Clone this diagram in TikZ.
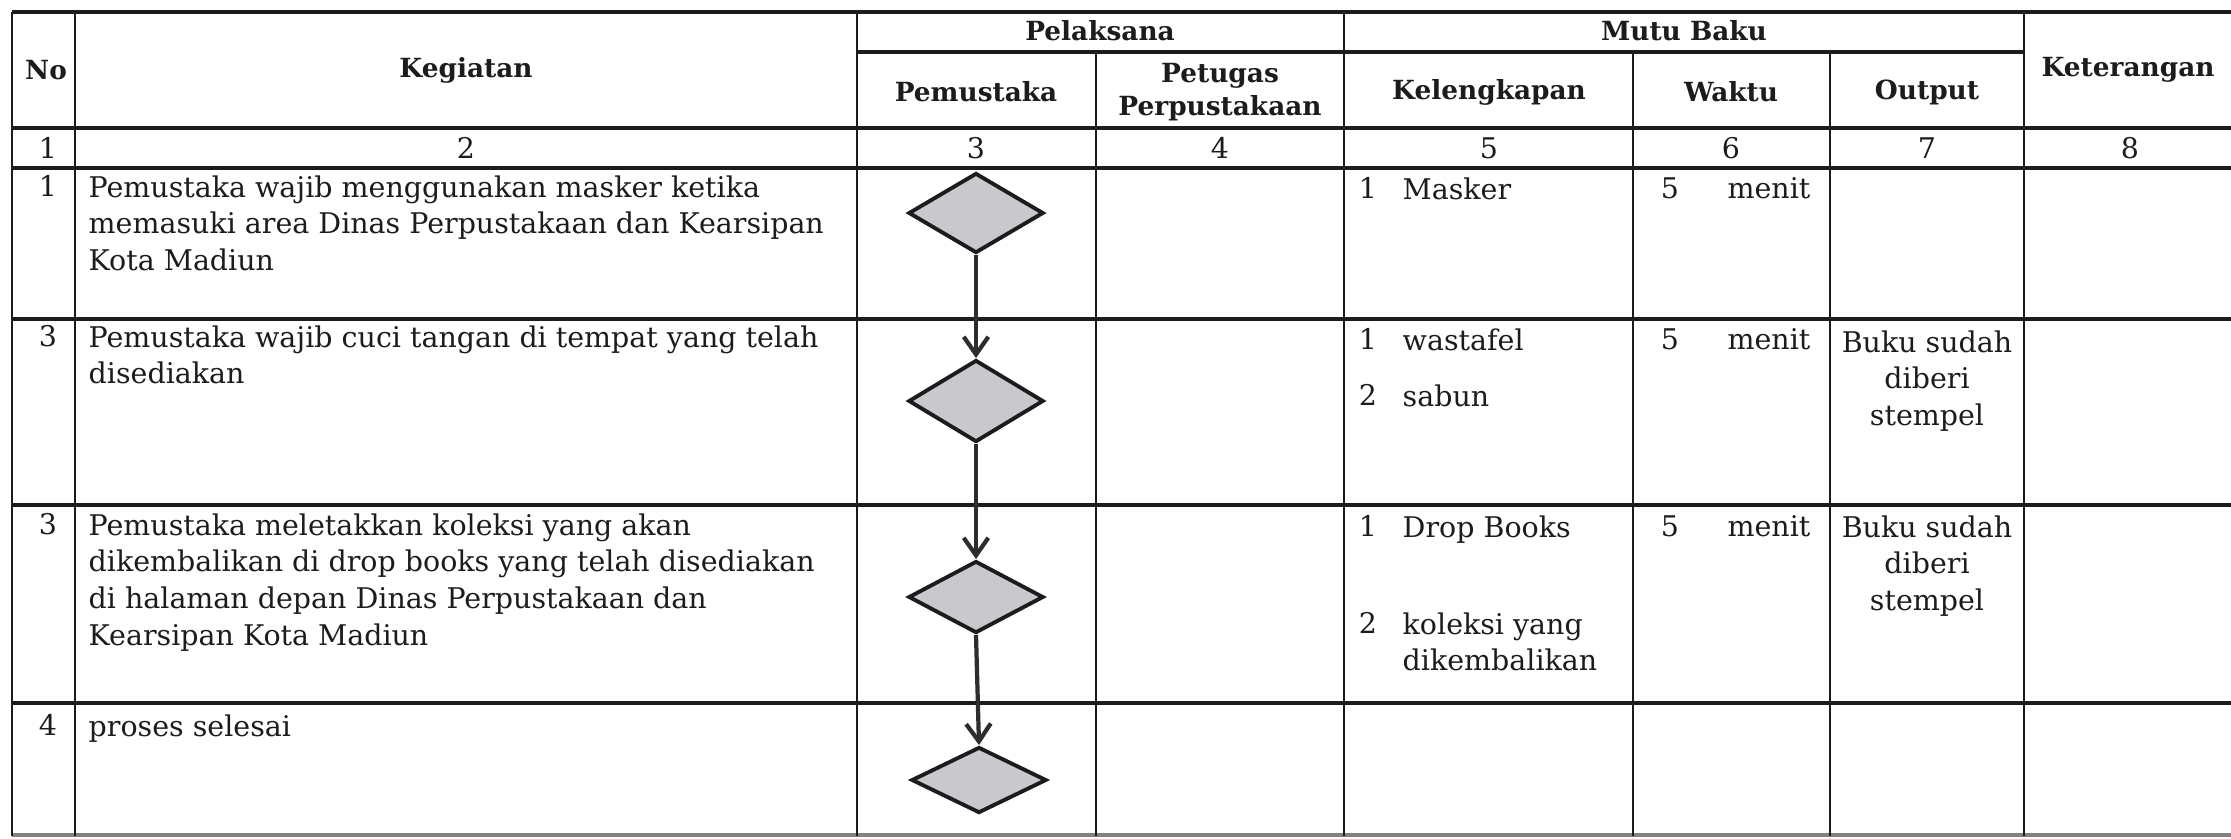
\documentclass[tikz,border=0pt]{standalone}
\usepackage{fontspec}
\setmainfont{DejaVu Serif}
\usetikzlibrary{shapes.geometric, arrows.meta}

\definecolor{ink}{RGB}{28,28,28}
\definecolor{diafill}{RGB}{200,200,205}
\definecolor{flowline}{RGB}{45,45,45}

\begin{document}
\begin{tikzpicture}[x=0.01cm, y=-0.01cm,
    hline/.style={line width=0.9pt, draw=ink},
    vline/.style={line width=0.7pt, draw=ink},
    head/.style={font=\fontsize{7.5}{9.4}\selectfont\bfseries, text=ink, align=center, inner sep=0pt},
    cell/.style={font=\fontsize{8.1}{10.4}\selectfont, text=ink, inner sep=0pt, anchor=north west, align=left},
    num/.style={font=\fontsize{8.1}{10.4}\selectfont, text=ink, inner sep=0pt},
    stepdia/.style={diamond, draw=ink, line width=1.1pt, fill=diafill, minimum width=1.35cm, inner sep=0pt},
    flow/.style={-{Straight Barb[length=5pt, width=7pt]}, draw=flowline, line width=1.2pt}]
    \useasboundingbox (0,0) rectangle (2231,838);

    % Grid
    \draw[hline] (12,12) -- (2231,12);
    \draw[hline] (857,52) -- (2024,52);
    \foreach \y in {128,168,319,505,703}
        \draw[hline] (12,\y) -- (2231,\y);
    \draw[hline, draw=ink!55] (12,835) -- (2231,835);
    \foreach \x in {12,75,857,1344,2024}
        \draw[vline] (\x,12) -- (\x,836);
    \foreach \x in {1096,1633,1830}
        \draw[vline] (\x,52) -- (\x,836);

    % Header
    \node[head] (hno) at (46,70) {No};
    \node[head] (hkeg) at (466,70) {Kegiatan};
    \node[head] (hpel) at (1100,31) {Pelaksana};
    \node[head] (hmutu) at (1684,31) {Mutu Baku};
    \node[head] (hpem) at (976,92) {Pemustaka};
    \node[head] (hpet) at (1220,92) {Petugas\\Perpustakaan};
    \node[head] (hkel) at (1489,92) {Kelengkapan};
    \node[head] (hwak) at (1731,92) {Waktu};
    \node[head] (hout) at (1927,92) {Output};
    \node[head] (hket) at (2128,70) {Keterangan};

    % Column numbers
    \node[num] (c1) at (48,148) {1};
    \node[num] (c2) at (466,148) {2};
    \node[num] (c3) at (976,148) {3};
    \node[num] (c4) at (1220,148) {4};
    \node[num] (c5) at (1489,148) {5};
    \node[num] (c6) at (1731,148) {6};
    \node[num] (c7) at (1927,148) {7};
    \node[num] (c8) at (2130,148) {8};

    % Row 1
    \node[cell, anchor=north] (no1) at (48,175) {1};
    \node[cell] (keg1) at (88,175) {Pemustaka wajib menggunakan masker ketika\\memasuki area Dinas Perpustakaan dan Kearsipan\\Kota Madiun};
    \node[cell, anchor=north] (kel1n) at (1368,177) {1};
    \node[cell] (kel1) at (1402,177) {Masker};
    \node[cell, anchor=north] (wak1n) at (1670,177) {5};
    \node[cell, anchor=north east] (wak1) at (1811,177) {menit};

    % Row 2
    \node[cell, anchor=north] (no2) at (48,325) {3};
    \node[cell] (keg2) at (88,325) {Pemustaka wajib cuci tangan di tempat yang telah\\disediakan};
    \node[cell, anchor=north] (kel2an) at (1368,328) {1};
    \node[cell] (kel2a) at (1402,328) {wastafel};
    \node[cell, anchor=north] (kel2bn) at (1368,384) {2};
    \node[cell] (kel2b) at (1402,384) {sabun};
    \node[cell, anchor=north] (wak2n) at (1670,328) {5};
    \node[cell, anchor=north east] (wak2) at (1811,328) {menit};
    \node[cell, anchor=north, align=center] (out2) at (1927,330) {Buku sudah\\diberi\\stempel};

    % Row 3
    \node[cell, anchor=north] (no3) at (48,513) {3};
    \node[cell] (keg3) at (88,513) {Pemustaka meletakkan koleksi yang akan\\dikembalikan di drop books yang telah disediakan\\di halaman depan Dinas Perpustakaan dan\\Kearsipan Kota Madiun};
    \node[cell, anchor=north] (kel3an) at (1368,515) {1};
    \node[cell] (kel3a) at (1402,515) {Drop Books};
    \node[cell, anchor=north] (kel3bn) at (1368,612) {2};
    \node[cell] (kel3b) at (1402,612) {koleksi yang\\dikembalikan};
    \node[cell, anchor=north] (wak3n) at (1670,515) {5};
    \node[cell, anchor=north east] (wak3) at (1811,515) {menit};
    \node[cell, anchor=north, align=center] (out3) at (1927,515) {Buku sudah\\diberi\\stempel};

    % Row 4
    \node[cell, anchor=north] (no4) at (48,714) {4};
    \node[cell] (keg4) at (88,714) {proses selesai};

    % Flow in Pemustaka column
    \node[stepdia, minimum height=0.80cm] (d1) at (976,213) {};
    \node[stepdia, minimum height=0.82cm] (d2) at (976,401) {};
    \node[stepdia, minimum height=0.72cm] (d3) at (976,597) {};
    \node[stepdia, minimum height=0.66cm] (d4) at (979,780) {};
    \draw[flow] (d1.south) -- (d2.north);
    \draw[flow] (d2.south) -- (d3.north);
    \draw[flow] (d3.south) -- (d4.north);
\end{tikzpicture}
\end{document}
